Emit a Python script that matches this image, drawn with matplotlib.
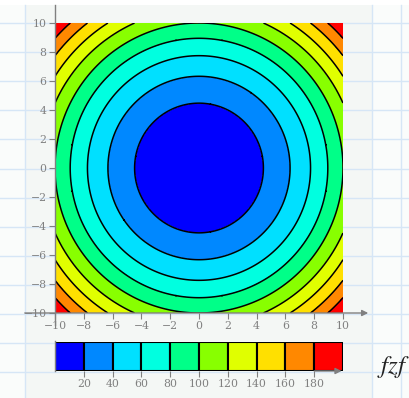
import numpy as np
import matplotlib
matplotlib.use("Agg")
import matplotlib.pyplot as plt
from matplotlib.patches import Rectangle

# ---- data ----
x_range = [-10, 10]
y_range = [-10, 10]
levels = [0, 20, 40, 60, 80, 100, 120, 140, 160, 180, 200]
line_levels = [20, 40, 60, 80, 100, 120, 140, 160, 180]
band_colors = ["#0000ff", "#0088ff", "#00e0ff", "#00ffe0", "#00ff88",
               "#88ff00", "#e0ff00", "#ffe000", "#ff8800", "#ff0000"]
axis_ticks = [-10, -8, -6, -4, -2, 0, 2, 4, 6, 8, 10]
cbar_ticks = [20, 40, 60, 80, 100, 120, 140, 160, 180]
z_label = "fzf"

W, H = 409, 398
GRAY = "#808080"
TICK_FONT = dict(family="DejaVu Serif", size=7.8, color=GRAY)
plt.rcParams["mathtext.fontset"] = "stix"


def fig_rect(x0, y0, x1, y1):
    # pixel box (top-left origin) -> figure fraction
    return [x0 / W, (H - y1) / H, (x1 - x0) / W, (y1 - y0) / H]


fig = plt.figure(figsize=(W / 100, H / 100), dpi=100)
fig.patch.set_facecolor("#fafcfb")

# ---- grid paper background ----
bg = fig.add_axes([0, 0, 1, 1], zorder=-5)
bg.set_xlim(0, W)
bg.set_ylim(H, 0)
bg.axis("off")
for gx in [25, 372, 401]:
    bg.plot([gx, gx], [5, H], color="#d6e6f6", lw=1)
for k in range(14):
    gy = 23 + 29.1 * k
    bg.plot([0, W], [gy, gy], color="#d6e6f6", lw=1)
bg.add_patch(Rectangle((25.5, 5), 346, H - 5, facecolor="#f4f7f5", edgecolor="none"))
bg.add_patch(Rectangle((0, 0), W, 5, facecolor="white", edgecolor="none"))

# ---- contour plot ----
ax = fig.add_axes(fig_rect(55, 23, 343, 313))
xs = np.linspace(x_range[0], x_range[1], 401)
ys = np.linspace(y_range[0], y_range[1], 401)
X, Y = np.meshgrid(xs, ys)
Z = X ** 2 + Y ** 2
ax.contourf(X, Y, Z, levels=levels, colors=band_colors)
ax.contour(X, Y, Z, levels=line_levels, colors="black", linewidths=1.1)
ax.set_xlim(x_range)
ax.set_ylim(y_range)
for s in ax.spines.values():
    s.set_visible(False)
ax.set_xticks(axis_ticks)
ax.set_yticks(axis_ticks)
ax.set_xticklabels([f"{t}".replace("-", "\u2212") for t in axis_ticks], **TICK_FONT)
ax.set_yticklabels([f"{t}".replace("-", "\u2212") for t in axis_ticks], **TICK_FONT)
ax.tick_params(length=4, width=0.8, color=GRAY, pad=2)

# axis lines with arrow
ax.annotate("", xy=(11.75, -10), xytext=(-12.1, -10), xycoords="data",
            arrowprops=dict(arrowstyle="-|>", color=GRAY, lw=1, mutation_scale=9,
                            shrinkA=0, shrinkB=0), annotation_clip=False)
ax.plot([-10, -10], [-10.8, 11.25], color=GRAY, lw=1, clip_on=False)

# ---- colour bar ----
cax = fig.add_axes(fig_rect(55, 342, 343, 371))
cax.bar(levels[:-1], [1] * len(band_colors), width=20, align="edge",
        color=band_colors, edgecolor="black", linewidth=1.5)
cax.set_xlim(levels[0], levels[-1])
cax.set_ylim(0, 1)
for s in cax.spines.values():
    s.set_visible(False)
cax.set_yticks([])
cax.set_xticks(cbar_ticks)
cax.set_xticklabels([str(t) for t in cbar_ticks], **TICK_FONT)
cax.tick_params(axis="x", length=4, width=0.8, color=GRAY, pad=2)
cax.plot([0, 0], [0, 1.05], color=GRAY, lw=1, clip_on=False)
cax.annotate("", xy=(199, 0), xytext=(180, 0), xycoords="data",
             arrowprops=dict(arrowstyle="-|>", color=GRAY, lw=1, mutation_scale=9,
                             shrinkA=0, shrinkB=0), annotation_clip=False)

fig.text(377 / W, (H - 373) / H, f"${z_label}$", size=18, color="#222222")

fig.savefig("out.png", dpi=100, facecolor=fig.get_facecolor())
